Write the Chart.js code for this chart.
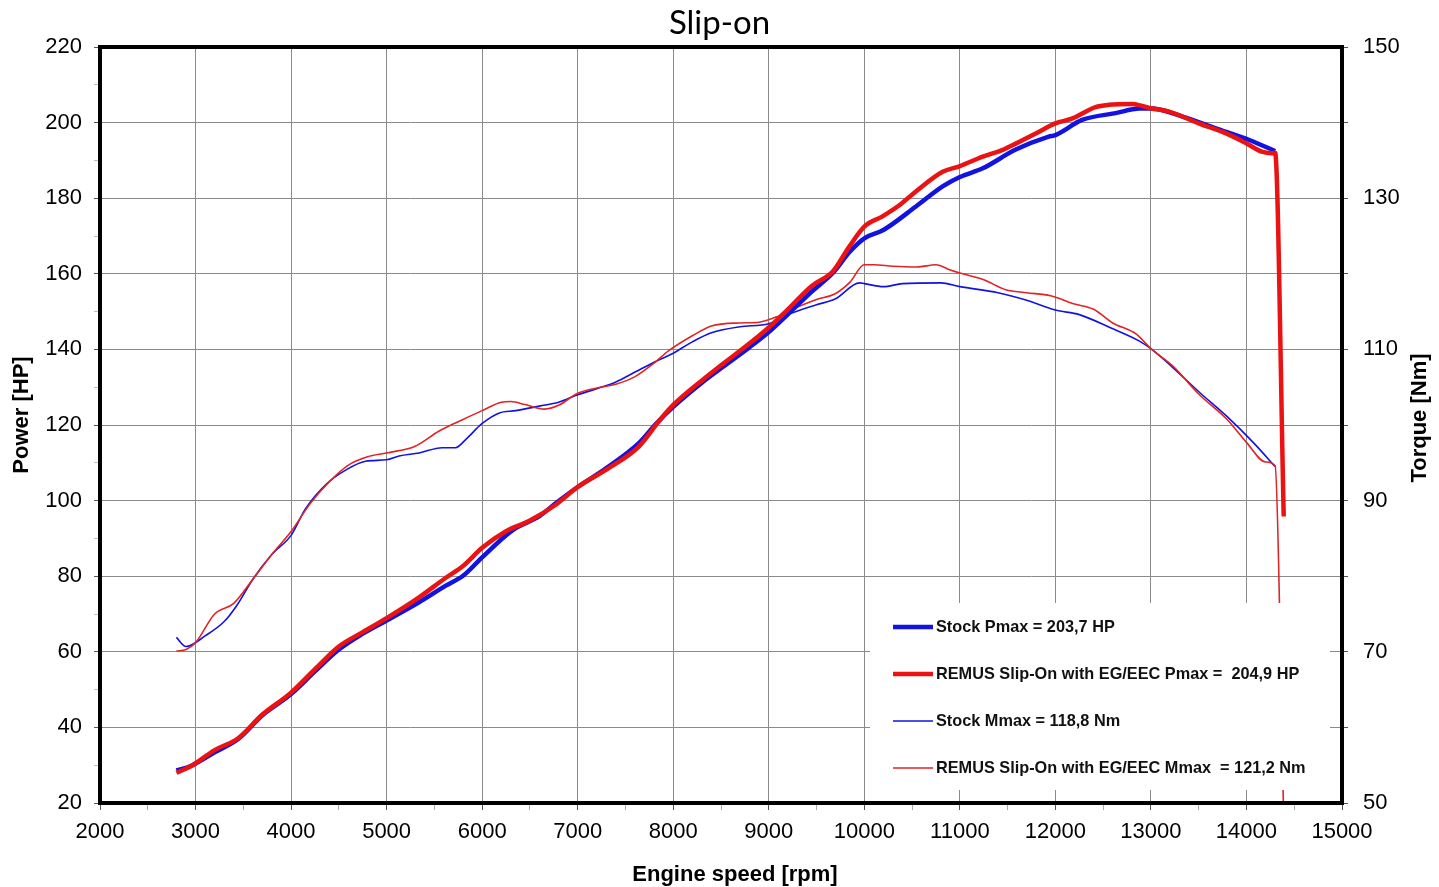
<!DOCTYPE html>
<html>
<head>
<meta charset="utf-8">
<script src="https://cdn.jsdelivr.net/npm/chart.js@4.4.1/dist/chart.umd.min.js"></script>
<style>
html,body{margin:0;padding:0;background:#fff;}
#wrap{width:1439px;height:887px;}
</style>
</head>
<body>
<div id="wrap"><canvas id="c" width="1439" height="887"></canvas></div>
<script>
// ---- data ----
const chartTitle = 'Slip-on';
const xTitle = 'Engine speed [rpm]';
const yLeftTitle = 'Power [HP]';
const yRightTitle = 'Torque [Nm]';

const seriesLabels = [
  'Stock Pmax = 203,7 HP',
  'REMUS Slip-On with EG/EEC Pmax =  204,9 HP',
  'Stock Mmax = 118,8 Nm',
  'REMUS Slip-On with EG/EEC Mmax  = 121,2 Nm'
];

const stockPowerRpm = [2800,2950,3200,3450,3700,4000,4250,4500,4750,5000,5340,5620,5800,6000,6320,6600,6770,7000,7300,7640,7820,8000,8300,8500,8800,9000,9200,9450,9670,9850,10000,10200,10540,10820,11000,11240,11580,11930,12000,12280,12630,12880,13000,13330,13680,14030,14300];
const stockPowerHp  = [28.6,29.8,33.4,37.0,43.2,48.8,54.8,60.6,64.8,68.3,73.1,77.5,80.1,85.0,92.2,95.9,99.3,103.6,108.6,115.2,120.3,124.8,131.2,135.0,140.6,144.6,149.3,155.3,160.2,165.9,169.4,171.6,177.8,183.1,185.6,187.9,192.8,196.3,196.7,200.7,202.5,203.7,203.7,201.6,198.5,195.4,192.5];

const remusPowerRpm = [2800,2950,3200,3450,3700,4000,4250,4500,4750,5000,5340,5620,5800,6000,6250,6490,6770,7000,7300,7640,7850,8000,8300,8500,8800,9000,9200,9450,9670,9843,10000,10190,10370,10540,10820,11000,11240,11450,11590,11800,12000,12180,12420,12560,12800,12910,13000,13190,13500,13780,14000,14160,14270,14300,14390];
const remusPowerHp  = [28.0,29.7,34.0,37.2,43.4,49.2,55.4,61.4,65.2,68.9,74.4,79.6,82.7,87.5,91.9,94.6,98.9,103.6,108.2,114.3,121.0,125.3,131.8,135.8,141.6,145.8,150.6,156.8,160.6,167.2,172.5,175.2,178.2,181.8,187.0,188.5,191.0,192.8,194.5,197.2,199.8,201.1,204.1,204.7,204.9,204.4,203.8,202.9,199.8,197.2,194.5,192.3,191.9,192.0,95.8];

const stockTorqueRpm = [2800,2900,3100,3300,3430,3600,3800,4000,4150,4370,4580,4780,5000,5130,5340,5580,5720,5830,6000,6180,6350,6600,6800,7000,7200,7400,7600,7800,8000,8200,8400,8700,9000,9200,9500,9700,9950,10000,10200,10400,10800,11000,11400,11700,12000,12250,12570,12880,13000,13230,13510,13790,14070,14300];
const stockTorqueNm  = [71.9,70.7,72.1,74.0,76.1,79.6,82.9,85.4,88.9,92.2,94.1,95.2,95.4,95.9,96.3,97.0,97.0,98.1,100.2,101.6,101.9,102.5,103.0,104.0,104.8,105.7,107.0,108.3,109.5,111.0,112.2,113.0,113.4,114.6,115.9,116.7,118.8,118.7,118.3,118.7,118.8,118.3,117.5,116.5,115.2,114.6,112.9,111.1,110.1,107.6,104.3,101.2,97.7,94.5];

const remusTorqueRpm = [2800,2900,3000,3200,3400,3600,3800,4000,4200,4400,4600,4800,5000,5300,5550,5760,6000,6200,6300,6450,6650,6800,7000,7200,7400,7600,7800,7950,8200,8400,8700,8900,9100,9300,9500,9700,9850,10000,10100,10300,10550,10750,10900,11000,11250,11480,11700,11950,12200,12400,12600,12850,13000,13230,13500,13800,14000,14200,14300,14390];
const remusTorqueNm  = [70.1,70.3,71.2,75.0,76.4,79.6,82.9,85.9,89.6,92.5,94.7,95.8,96.3,97.2,99.2,100.5,101.9,103.0,103.1,102.7,102.1,102.6,104.2,104.9,105.4,106.4,108.2,109.8,111.8,113.1,113.5,113.6,114.4,115.6,116.6,117.4,118.9,121.2,121.2,121.0,120.9,121.2,120.5,120.1,119.2,117.9,117.5,117.1,116.0,115.3,113.5,112.0,110.1,107.8,104.1,100.7,97.7,95.1,94.6,48.0];

// ---- helpers ----
function pts(xs, ys){ return xs.map((x,i)=>({x:x, y:ys[i]})); }

const BLUE = 'rgb(18,18,225)';
const RED  = 'rgb(235,18,18)';
const RED_THIN = 'rgb(225,35,35)';
const GRID = '#8a8a8a';
const FONT = '"Liberation Sans", Arial, sans-serif';

const legendPlugin = {
  id: 'boxLegend',
  afterDatasetsDraw(chart){
    const ctx = chart.ctx, a = chart.chartArea;
    const bx = a.left + 770, by = a.top + 556, bw = 460, bh = 187;
    ctx.save();
    ctx.fillStyle = '#fff';
    ctx.fillRect(bx, by, bw, bh);
    const rows = [24, 71, 118, 165];
    const ds = chart.data.datasets;
    ctx.font = 'bold 16.3px ' + FONT;
    ctx.textBaseline = 'middle';
    ctx.textAlign = 'left';
    rows.forEach((ry, i) => {
      const d = ds[i];
      const y = by + ry;
      ctx.strokeStyle = d.borderColor;
      ctx.lineWidth = d.borderWidth;
      ctx.beginPath();
      ctx.moveTo(bx + 23, y);
      ctx.lineTo(bx + 63, y);
      ctx.stroke();
      ctx.fillStyle = '#111';
      ctx.fillText(d.label, bx + 66, y + 1);
    });
    ctx.restore();
  },
  afterDraw(chart){
    const ctx = chart.ctx, a = chart.chartArea;
    ctx.save();
    ctx.strokeStyle = '#000';
    ctx.lineWidth = 4;
    ctx.strokeRect(a.left, a.top, a.right - a.left, a.bottom - a.top);
    ctx.fillStyle = '#000';
    ctx.font = 'bold 22px ' + FONT;
    ctx.textAlign = 'center';
    ctx.textBaseline = 'middle';
    const midY = (a.top + a.bottom) / 2;
    // x axis title
    ctx.fillText(xTitle, (a.left + a.right) / 2 + 14, 875);
    // left axis title, reading bottom to top
    ctx.save();
    ctx.translate(22, midY - 10);
    ctx.rotate(-Math.PI / 2);
    ctx.fillText(yLeftTitle, 0, 0);
    ctx.restore();
    // right axis title, reading bottom to top
    ctx.save();
    ctx.translate(1420, midY - 7);
    ctx.rotate(-Math.PI / 2);
    ctx.fillText(yRightTitle, 0, 0);
    ctx.restore();
    ctx.restore();
  }
};

const common = {fill:false, pointRadius:0, cubicInterpolationMode:'monotone'};

new Chart(document.getElementById('c'), {
  type: 'line',
  data: {
    datasets: [
      Object.assign({label: seriesLabels[0], data: pts(stockPowerRpm, stockPowerHp), borderColor: BLUE, borderWidth: 4.5, yAxisID: 'y', order: 1}, common),
      Object.assign({label: seriesLabels[1], data: pts(remusPowerRpm, remusPowerHp), borderColor: RED, borderWidth: 4.5, yAxisID: 'y', order: 0}, common),
      Object.assign({label: seriesLabels[2], data: pts(stockTorqueRpm, stockTorqueNm), borderColor: BLUE, borderWidth: 1.6, yAxisID: 'y1', order: 3}, common),
      Object.assign({label: seriesLabels[3], data: pts(remusTorqueRpm, remusTorqueNm), borderColor: RED_THIN, borderWidth: 1.6, yAxisID: 'y1', order: 2}, common)
    ]
  },
  options: {
    responsive: false,
    animation: false,
    devicePixelRatio: 1,
    layout: {padding: 0},
    plugins: {
      legend: {display: false},
      tooltip: {enabled: false},
      title: {
        display: true, text: chartTitle, color: '#000',
        font: {family: 'Lato, "Open Sans", sans-serif', size: 33, weight: 'normal', lineHeight: 1.2},
        padding: {top: 4, bottom: 3.4}
      }
    },
    scales: {
      x: {
        type: 'linear', min: 2000, max: 15000,
        border: {display: false},
        grid: {
          color: ctx => (ctx.tick && ctx.tick.value % 1000 === 0) ? GRID : 'rgba(0,0,0,0)',
          tickColor: ctx => (ctx.tick && ctx.tick.value % 1000 === 0) ? '#555' : '#aaa',
          tickLength: 7, lineWidth: 1
        },
        ticks: {
          stepSize: 500, autoSkip: false, maxRotation: 0, padding: 9, color: '#000',
          font: {family: FONT, size: 22},
          callback: v => (v % 1000 === 0) ? String(v) : ''
        },
        title: {display: false, text: xTitle},
        afterFit: s => { s.height = 84; }
      },
      y: {
        type: 'linear', position: 'left', min: 20, max: 220,
        border: {display: false},
        grid: {
          color: ctx => (ctx.tick && ctx.tick.value % 20 === 0) ? GRID : 'rgba(0,0,0,0)',
          tickColor: ctx => (ctx.tick && ctx.tick.value % 20 === 0) ? '#555' : '#bbb',
          tickLength: 6, lineWidth: 1
        },
        ticks: {
          stepSize: 10, autoSkip: false, padding: 12, color: '#000',
          font: {family: FONT, size: 22},
          callback: v => (v % 20 === 0) ? String(v) : ''
        },
        title: {display: false, text: yLeftTitle},
        afterFit: s => { s.width = 100; }
      },
      y1: {
        type: 'linear', position: 'right', min: 50, max: 150,
        border: {display: false},
        grid: {drawOnChartArea: false, tickColor: '#555', tickLength: 6},
        ticks: {
          stepSize: 10, autoSkip: false, padding: 15, color: '#000',
          font: {family: FONT, size: 22},
          callback: v => ((v - 50) % 20 === 0) ? String(v) : ''
        },
        title: {display: false, text: yRightTitle},
        afterFit: s => { s.width = 97; }
      }
    }
  },
  plugins: [legendPlugin]
});
</script>
</body>
</html>
